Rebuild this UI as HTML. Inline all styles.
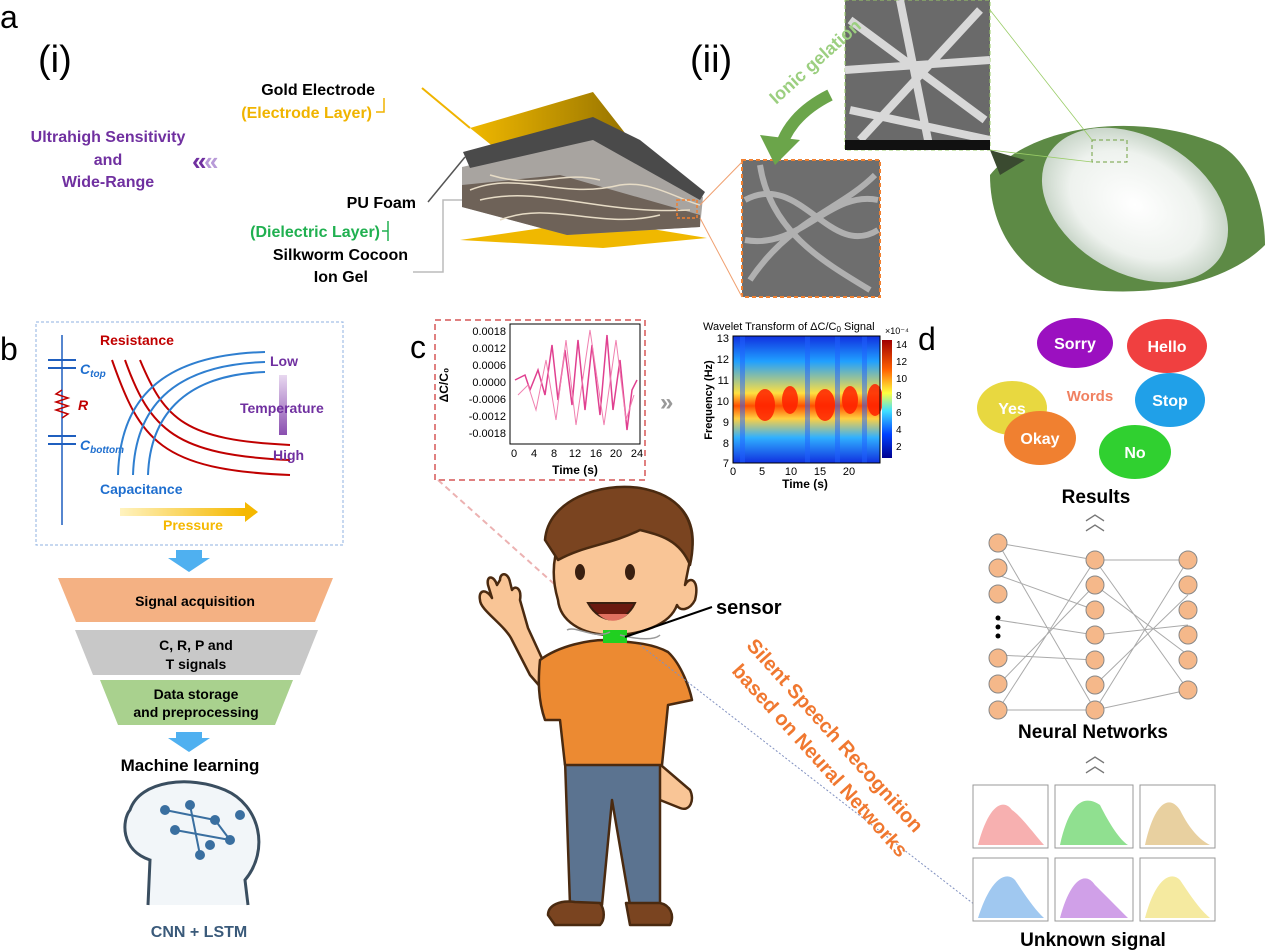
<!DOCTYPE html>
<html><head><meta charset="utf-8">
<style>
html,body{margin:0;padding:0;background:#fff;}
svg{display:block;font-family:"Liberation Sans",Arial,sans-serif;}
.b{font-weight:bold;}
</style></head>
<body>
<svg width="1268" height="951" viewBox="0 0 1268 951" xmlns="http://www.w3.org/2000/svg">
<defs>
<linearGradient id="gold" x1="0" x2="1"><stop offset="0" stop-color="#f0b800"/><stop offset="1" stop-color="#8a6a00"/></linearGradient>
<linearGradient id="pr" x1="0" x2="1"><stop offset="0" stop-color="#fff3c0"/><stop offset="1" stop-color="#f5b800"/></linearGradient>
<linearGradient id="tp" x1="0" y1="0" x2="0" y2="1"><stop offset="0" stop-color="#e8d8f0"/><stop offset="1" stop-color="#8a4fb0"/></linearGradient>
<linearGradient id="hm" x1="0" y1="0" x2="0" y2="1"><stop offset="0" stop-color="#a00000"/><stop offset=".25" stop-color="#ff6000"/><stop offset=".45" stop-color="#ffff40"/><stop offset=".6" stop-color="#40e0ff"/><stop offset=".8" stop-color="#0040ff"/><stop offset="1" stop-color="#000090"/></linearGradient>
<linearGradient id="hmrow" x1="0" y1="0" x2="0" y2="1"><stop offset="0" stop-color="#1030e0"/><stop offset=".2" stop-color="#20a0ff"/><stop offset=".45" stop-color="#ffe040"/><stop offset=".55" stop-color="#ff5000"/><stop offset=".65" stop-color="#ffd040"/><stop offset=".8" stop-color="#30b0ff"/><stop offset="1" stop-color="#1030e0"/></linearGradient>
<radialGradient id="leafg"><stop offset="0" stop-color="#ffffff"/><stop offset=".7" stop-color="#eef2ee"/><stop offset="1" stop-color="#c9d6c9"/></radialGradient>
</defs>

<!-- Panel a -->
<text x="0" y="28" font-size="32">a</text>
<text x="38" y="72" font-size="38">(i)</text>
<text x="690" y="72" font-size="38">(ii)</text>
<text x="375" y="95" font-size="16" class="b" text-anchor="end">Gold Electrode</text>
<text x="372" y="118" font-size="16" class="b" fill="#f0b400" text-anchor="end">(Electrode Layer)</text>
<path d="M376 112 h8 v-14" stroke="#f0b400" fill="none" stroke-width="1.5"/>
<text x="108" y="142" font-size="16" class="b" fill="#7030a0" text-anchor="middle">Ultrahigh Sensitivity</text>
<text x="108" y="165" font-size="16" class="b" fill="#7030a0" text-anchor="middle">and</text>
<text x="108" y="187" font-size="16" class="b" fill="#7030a0" text-anchor="middle">Wide-Range</text>
<text x="192" y="170" font-size="26" class="b" fill="#7030a0">«</text>
<text x="204" y="170" font-size="26" class="b" fill="#b89ad8">«</text>
<text x="416" y="208" font-size="16" class="b" text-anchor="end">PU Foam</text>
<text x="380" y="237" font-size="16" class="b" fill="#20b050" text-anchor="end">(Dielectric Layer)</text>
<path d="M382 231 h6 v-10 v20" stroke="#20b050" fill="none" stroke-width="1.5"/>
<text x="408" y="260" font-size="16" class="b" text-anchor="end">Silkworm Cocoon</text>
<text x="368" y="282" font-size="16" class="b" text-anchor="end">Ion Gel</text>
<line x1="422" y1="88" x2="470" y2="128" stroke="#f0b400" stroke-width="2"/>
<line x1="428" y1="202" x2="465" y2="157" stroke="#555" stroke-width="1.5"/>
<path d="M413 272 h30 v-72 h20" stroke="#bbb" fill="none" stroke-width="1.5"/>
<!-- device -->
<polygon points="470,128 593,92 650,165 495,148" fill="url(#gold)"/>
<polygon points="460,240 597,220 707,238 603,248" fill="#f0b800"/>
<polygon points="462,167 593,137 703,197 700,227 567,235 462,207" fill="#a8a4a0"/>
<polygon points="462,185 560,175 700,215 700,227 567,235 462,207" fill="#6e6258"/>
<path d="M470 190 C520 170 560 200 620 185 C650 180 680 200 700 205 M480 200 C540 185 600 215 690 210 M490 175 C540 190 560 170 600 180 M500 220 C550 200 600 230 660 215" stroke="#e7dcc6" fill="none" stroke-width="1.5"/>
<polygon points="463,152 593,117 640,140 705,192 700,200 593,140 470,168" fill="#4a4a4a"/>
<rect x="677" y="200" width="20" height="18" fill="none" stroke="#f08030" stroke-width="1.5" stroke-dasharray="3 2"/>
<!-- SEM images -->
<rect x="845" y="0" width="145" height="150" fill="#6a6a6a" stroke="#9c6" stroke-dasharray="4 3"/>
<path d="M850 20 L985 120 M860 140 L980 10 M845 70 L990 60 M900 0 L930 150 M850 110 L990 140" stroke="#d8d8d8" stroke-width="8" fill="none"/>
<rect x="845" y="140" width="145" height="10" fill="#111"/>
<rect x="742" y="160" width="138" height="137" fill="#6e6e6e" stroke="#f08030" stroke-width="2" stroke-dasharray="4 3"/>
<path d="M745 200 C800 170 830 260 878 230 M750 280 C790 220 840 210 875 175 M760 165 C770 230 820 260 870 290 M745 240 C800 250 830 190 878 200" stroke="#b0b0b0" stroke-width="6" fill="none"/>
<line x1="700" y1="205" x2="742" y2="162" stroke="#f0a070"/>
<line x1="700" y1="218" x2="742" y2="297" stroke="#f0a070"/>
<text x="755" y="90" font-size="18" class="b" fill="#9ccf80" transform="rotate(-42 785 70)">Ionic gelation</text>
<path d="M830 95 C800 110 785 130 780 150" stroke="#6ba54a" stroke-width="12" fill="none"/>
<polygon points="760,135 800,140 775,165" fill="#6ba54a"/>
<!-- leaf -->
<path d="M990 175 C1030 125 1140 110 1220 145 C1255 165 1265 215 1265 245 C1220 290 1130 300 1060 285 C1020 270 990 230 990 175 Z" fill="#5d8a45"/>
<ellipse cx="1135" cy="205" rx="100" ry="68" transform="rotate(30 1135 205)" fill="url(#leafg)"/>
<polygon points="990,150 1025,160 1000,175" fill="#3a4a30"/>
<rect x="1092" y="140" width="35" height="22" fill="none" stroke="#70a040" stroke-dasharray="4 3"/>
<line x1="990" y1="10" x2="1092" y2="140" stroke="#9c6" stroke-width=".8"/>
<line x1="990" y1="150" x2="1092" y2="162" stroke="#9c6" stroke-width=".8"/>

<!-- Panel b -->
<text x="0" y="360" font-size="32">b</text>
<rect x="36" y="322" width="307" height="223" fill="none" stroke="#8fb0e0" stroke-dasharray="3 2"/>
<line x1="62" y1="335" x2="62" y2="525" stroke="#1f5fbf" stroke-width="1.5"/>
<line x1="48" y1="360" x2="76" y2="360" stroke="#1f5fbf" stroke-width="2"/>
<line x1="48" y1="368" x2="76" y2="368" stroke="#1f5fbf" stroke-width="2"/>
<line x1="48" y1="436" x2="76" y2="436" stroke="#1f5fbf" stroke-width="2"/>
<line x1="48" y1="444" x2="76" y2="444" stroke="#1f5fbf" stroke-width="2"/>
<polyline points="62,390 56,394 68,398 56,402 68,406 56,410 68,414 62,418" stroke="#c00000" fill="none" stroke-width="1.5"/>
<text x="80" y="374" font-size="14" class="b" font-style="italic" fill="#1f6fcf">C<tspan font-size="10" dy="3">top</tspan></text>
<text x="78" y="410" font-size="14" class="b" font-style="italic" fill="#c00000">R</text>
<text x="80" y="450" font-size="14" class="b" font-style="italic" fill="#1f6fcf">C<tspan font-size="10" dy="3">bottom</tspan></text>
<text x="100" y="345" font-size="14" class="b" fill="#c00000">Resistance</text>
<path d="M112 360 C140 440 160 470 290 475 M125 360 C150 430 175 455 290 460 M140 360 C165 420 185 440 290 445" stroke="#c00000" stroke-width="2" fill="none"/>
<path d="M118 475 C120 400 160 355 265 352 M133 475 C135 410 170 365 265 362 M148 475 C150 420 180 375 265 372" stroke="#2f7fd0" stroke-width="2" fill="none"/>
<text x="100" y="494" font-size="14" class="b" fill="#1f6fcf">Capacitance</text>
<text x="270" y="366" font-size="14" class="b" fill="#7030a0">Low</text>
<rect x="279" y="375" width="8" height="60" fill="url(#tp)"/>
<text x="240" y="413" font-size="14" class="b" fill="#7030a0">Temperature</text>
<text x="273" y="460" font-size="14" class="b" fill="#7030a0">High</text>
<rect x="120" y="508" width="125" height="8" fill="url(#pr)"/>
<polygon points="245,502 258,512 245,522" fill="#f5b800"/>
<text x="163" y="530" font-size="14" class="b" fill="#f5b800">Pressure</text>
<polygon points="176,550 202,550 202,558 210,558 189,572 168,558 176,558" fill="#4fb0f0"/>
<polygon points="58,578 333,578 315,622 76,622" fill="#f4b183"/>
<text x="195" y="606" font-size="14" class="b" text-anchor="middle">Signal acquisition</text>
<polygon points="75,630 318,630 300,675 93,675" fill="#c8c8c8"/>
<text x="196" y="650" font-size="14" class="b" text-anchor="middle">C, R, P and</text>
<text x="196" y="669" font-size="14" class="b" text-anchor="middle">T signals</text>
<polygon points="100,680 293,680 275,725 118,725" fill="#a9d18e"/>
<text x="196" y="699" font-size="14" class="b" text-anchor="middle">Data storage</text>
<text x="196" y="717" font-size="14" class="b" text-anchor="middle">and preprocessing</text>
<polygon points="176,732 202,732 202,738 210,738 189,752 168,738 176,738" fill="#4fb0f0"/>
<text x="190" y="771" font-size="17" class="b" text-anchor="middle">Machine learning</text>
<path d="M148 905 L150 860 C120 850 122 820 130 810 C140 780 190 775 225 790 C260 805 270 850 245 880 L248 905" fill="#f2f6f9" stroke="#3a4e60" stroke-width="3"/>
<g stroke="#3a6fa0" stroke-width="2" fill="#3a6fa0">
<line x1="165" y1="810" x2="215" y2="820"/><line x1="175" y1="830" x2="230" y2="840"/><line x1="190" y1="805" x2="200" y2="855"/><line x1="215" y1="820" x2="230" y2="840"/>
<circle cx="165" cy="810" r="4"/><circle cx="215" cy="820" r="4"/><circle cx="175" cy="830" r="4"/><circle cx="230" cy="840" r="4"/><circle cx="190" cy="805" r="4"/><circle cx="200" cy="855" r="4"/><circle cx="240" cy="815" r="4"/><circle cx="210" cy="845" r="4"/>
</g>
<text x="199" y="937" font-size="16" class="b" fill="#3a5a7a" text-anchor="middle">CNN + LSTM</text>

<!-- Panel c -->
<text x="410" y="358" font-size="32">c</text>
<rect x="435" y="320" width="210" height="160" fill="none" stroke="#e08080" stroke-width="2" stroke-dasharray="6 4"/>
<rect x="510" y="324" width="130" height="120" fill="#fff" stroke="#000"/>
<polyline points="515,380 525,375 530,390 538,370 545,395 552,345 558,400 565,350 572,405 578,340 585,410 592,345 600,415 607,335 613,410 620,360 627,430 632,390 637,380" stroke="#e04090" fill="none" stroke-width="1.5"/>
<polyline points="518,395 528,385 536,410 546,360 556,420 566,340 576,425 590,330 604,425 616,340 626,420 634,395" stroke="#f080b0" fill="none" stroke-width="1"/>
<g font-size="11" text-anchor="end">
<text x="506" y="335">0.0018</text><text x="506" y="352">0.0012</text><text x="506" y="369">0.0006</text><text x="506" y="386">0.0000</text><text x="506" y="403">-0.0006</text><text x="506" y="420">-0.0012</text><text x="506" y="437">-0.0018</text>
</g>
<g font-size="11" text-anchor="middle">
<text x="514" y="457">0</text><text x="534" y="457">4</text><text x="554" y="457">8</text><text x="575" y="457">12</text><text x="596" y="457">16</text><text x="616" y="457">20</text><text x="637" y="457">24</text>
</g>
<text x="575" y="474" font-size="12" class="b" text-anchor="middle">Time (s)</text>
<text x="448" y="385" font-size="12" class="b" text-anchor="middle" transform="rotate(-90 448 385)">ΔC/C₀</text>
<text x="660" y="410" font-size="24" class="b" fill="#999">»</text>
<text x="703" y="330" font-size="11">Wavelet Transform of ΔC/C<tspan font-size="8" dy="2">0</tspan><tspan dy="-2"> Signal</tspan></text>
<rect x="733" y="336" width="147" height="127" fill="url(#hmrow)"/>
<g fill="#ff2000" opacity=".85">
<ellipse cx="765" cy="405" rx="10" ry="16"/><ellipse cx="790" cy="400" rx="8" ry="14"/><ellipse cx="825" cy="405" rx="10" ry="16"/><ellipse cx="850" cy="400" rx="8" ry="14"/><ellipse cx="875" cy="400" rx="8" ry="16"/>
</g>
<g fill="#2060ff" opacity=".5">
<rect x="740" y="336" width="5" height="127"/><rect x="805" y="336" width="5" height="127"/><rect x="835" y="336" width="5" height="127"/><rect x="862" y="336" width="5" height="127"/>
</g>
<rect x="733" y="336" width="147" height="127" fill="none" stroke="#000"/>
<rect x="882" y="340" width="10" height="118" fill="url(#hm)"/>
<g font-size="10">
<text x="896" y="348">14</text><text x="896" y="365">12</text><text x="896" y="382">10</text><text x="896" y="399">8</text><text x="896" y="416">6</text><text x="896" y="433">4</text><text x="896" y="450">2</text>
<text x="885" y="334" font-size="9">×10⁻⁴</text>
</g>
<g font-size="11" text-anchor="end">
<text x="729" y="342">13</text><text x="729" y="363">12</text><text x="729" y="384">11</text><text x="729" y="405">10</text><text x="729" y="426">9</text><text x="729" y="447">8</text><text x="729" y="467">7</text>
</g>
<g font-size="11" text-anchor="middle">
<text x="733" y="475">0</text><text x="762" y="475">5</text><text x="791" y="475">10</text><text x="820" y="475">15</text><text x="849" y="475">20</text>
</g>
<text x="805" y="488" font-size="12" class="b" text-anchor="middle">Time (s)</text>
<text x="712" y="400" font-size="11" class="b" text-anchor="middle" transform="rotate(-90 712 400)">Frequency (Hz)</text>
<line x1="438" y1="480" x2="600" y2="625" stroke="#e08080" stroke-width="2" stroke-dasharray="6 4" opacity=".6"/>
<!-- boy -->
<g stroke="#4a2a10" stroke-width="2.5" stroke-linejoin="round">
<path d="M512 640 C505 625 480 610 480 600 C478 590 486 588 492 598 L488 585 C486 575 494 575 497 585 L500 580 C500 572 508 572 510 582 L512 590 C515 585 522 588 520 600 L528 628 L545 665 L560 690 L550 698 L530 675 Z" fill="#f9c596"/>
<path d="M620 780 L655 760 L690 790 C695 800 690 812 680 808 L660 800 Z" fill="#f9c596"/>
<path d="M565 760 L660 760 L660 905 L630 905 L612 800 L602 905 L570 905 Z" fill="#5b7390"/>
<path d="M548 915 C548 905 560 900 575 902 L600 903 C605 910 605 920 600 925 L555 925 Z" fill="#7a4420"/>
<path d="M626 903 L660 903 C670 905 675 915 670 925 L630 925 Z" fill="#7a4420"/>
<path d="M540 660 C560 645 590 640 605 640 C625 642 650 642 668 652 C682 665 690 690 692 700 L668 705 L662 765 L565 765 L560 720 L545 720 C538 700 538 680 540 660 Z" fill="#ec8a32"/>
<path d="M560 540 C545 500 600 485 640 490 C680 495 700 520 690 560 L685 585 C690 575 700 580 695 600 C690 610 680 612 677 605 C670 625 640 635 612 635 C580 635 560 620 558 600 C552 580 552 560 560 540 Z" fill="#f9c596"/>
<path d="M545 540 C548 500 600 482 640 488 C680 495 700 520 690 565 C680 540 660 535 640 530 C610 545 585 545 558 560 Z" fill="#7a4420"/>
</g>
<ellipse cx="580" cy="572" rx="5" ry="8" fill="#3a2010"/><ellipse cx="630" cy="572" rx="5" ry="8" fill="#3a2010"/>
<path d="M588 603 C600 625 625 625 635 603 Z" fill="#6a1a10" stroke="#3a2010" stroke-width="2"/>
<path d="M598 614 C608 624 620 622 628 614 Z" fill="#e07060"/>
<rect x="603" y="630" width="24" height="13" fill="#20d020"/>
<path d="M567 630 C575 625 595 640 610 632 M620 635 C640 640 655 640 660 635" stroke="#999" fill="none" stroke-width="1.5"/>
<line x1="625" y1="637" x2="712" y2="607" stroke="#000" stroke-width="2"/>
<text x="716" y="614" font-size="20" class="b">sensor</text>
<line x1="640" y1="645" x2="975" y2="905" stroke="#8090c0" stroke-dasharray="2 2"/>
<text x="830" y="740" font-size="20" class="b" fill="#f07830" transform="rotate(48 830 740)" text-anchor="middle">Silent Speech Recognition</text>
<text x="815" y="765" font-size="20" class="b" fill="#f07830" transform="rotate(48 815 765)" text-anchor="middle">based on Neural Networks</text>

<!-- Panel d -->
<text x="918" y="350" font-size="32">d</text>
<g class="b" font-size="16" fill="#fff" text-anchor="middle">
<ellipse cx="1075" cy="343" rx="38" ry="25" fill="#9b10c0"/><text x="1075" y="349">Sorry</text>
<ellipse cx="1167" cy="346" rx="40" ry="27" fill="#f04040"/><text x="1167" y="352">Hello</text>
<ellipse cx="1012" cy="408" rx="35" ry="27" fill="#e8d840"/><text x="1012" y="414">Yes</text>
<ellipse cx="1170" cy="400" rx="35" ry="27" fill="#20a0e8"/><text x="1170" y="406">Stop</text>
<ellipse cx="1040" cy="438" rx="36" ry="27" fill="#f08030"/><text x="1040" y="444">Okay</text>
<ellipse cx="1135" cy="452" rx="36" ry="27" fill="#30d030"/><text x="1135" y="458">No</text>
</g>
<text x="1090" y="401" font-size="15" class="b" fill="#f08060" text-anchor="middle">Words</text>
<text x="1096" y="503" font-size="19" class="b" text-anchor="middle">Results</text>
<text x="1095" y="520" font-size="20" fill="#777" text-anchor="middle">︿</text>
<text x="1095" y="530" font-size="20" fill="#777" text-anchor="middle">︿</text>
<g stroke="#aaa" stroke-width="1">
<path d="M998 543 L1095 560 M998 543 L1095 710 M998 710 L1095 560 M998 710 L1095 710 M998 620 L1095 635 M998 575 L1095 610 M998 655 L1095 660 M998 685 L1095 585 M1095 560 L1188 560 M1095 560 L1188 690 M1095 710 L1188 560 M1095 710 L1188 690 M1095 635 L1188 625 M1095 585 L1188 655 M1095 685 L1188 595"/>
</g>
<g fill="#f5b88a" stroke="#888">
<circle cx="998" cy="543" r="9"/><circle cx="998" cy="568" r="9"/><circle cx="998" cy="594" r="9"/><circle cx="998" cy="658" r="9"/><circle cx="998" cy="684" r="9"/><circle cx="998" cy="710" r="9"/>
<circle cx="1095" cy="560" r="9"/><circle cx="1095" cy="585" r="9"/><circle cx="1095" cy="610" r="9"/><circle cx="1095" cy="635" r="9"/><circle cx="1095" cy="660" r="9"/><circle cx="1095" cy="685" r="9"/><circle cx="1095" cy="710" r="9"/>
<circle cx="1188" cy="560" r="9"/><circle cx="1188" cy="585" r="9"/><circle cx="1188" cy="610" r="9"/><circle cx="1188" cy="635" r="9"/><circle cx="1188" cy="660" r="9"/><circle cx="1188" cy="690" r="9"/>
</g>
<g fill="#000"><circle cx="998" cy="618" r="2.5"/><circle cx="998" cy="627" r="2.5"/><circle cx="998" cy="636" r="2.5"/></g>
<text x="1093" y="738" font-size="19" class="b" text-anchor="middle">Neural Networks</text>
<text x="1095" y="762" font-size="20" fill="#777" text-anchor="middle">︿</text>
<text x="1095" y="772" font-size="20" fill="#777" text-anchor="middle">︿</text>
<g stroke="#999" fill="#fff">
<rect x="973" y="785" width="75" height="63"/><rect x="1055" y="785" width="78" height="63"/><rect x="1140" y="785" width="75" height="63"/>
<rect x="973" y="858" width="75" height="63"/><rect x="1055" y="858" width="78" height="63"/><rect x="1140" y="858" width="75" height="63"/>
</g>
<path d="M978 845 C990 800 1005 800 1012 810 C1020 815 1035 835 1044 845 Z" fill="#f7b0b0"/>
<path d="M1060 845 C1070 800 1085 795 1100 805 C1110 825 1120 840 1128 845 Z" fill="#90e090"/>
<path d="M1145 845 C1155 800 1170 795 1180 810 C1190 830 1200 840 1210 845 Z" fill="#e8d0a0"/>
<path d="M978 918 C990 880 1005 870 1015 880 C1025 895 1035 910 1044 918 Z" fill="#a0c8f0"/>
<path d="M1060 918 C1070 880 1085 870 1095 885 C1110 900 1120 910 1128 918 Z" fill="#d0a0e8"/>
<path d="M1145 918 C1155 880 1170 870 1180 880 C1190 895 1200 910 1210 918 Z" fill="#f5eaa0"/>
<text x="1093" y="946" font-size="19" class="b" text-anchor="middle">Unknown signal</text>
</svg>
</body></html>
